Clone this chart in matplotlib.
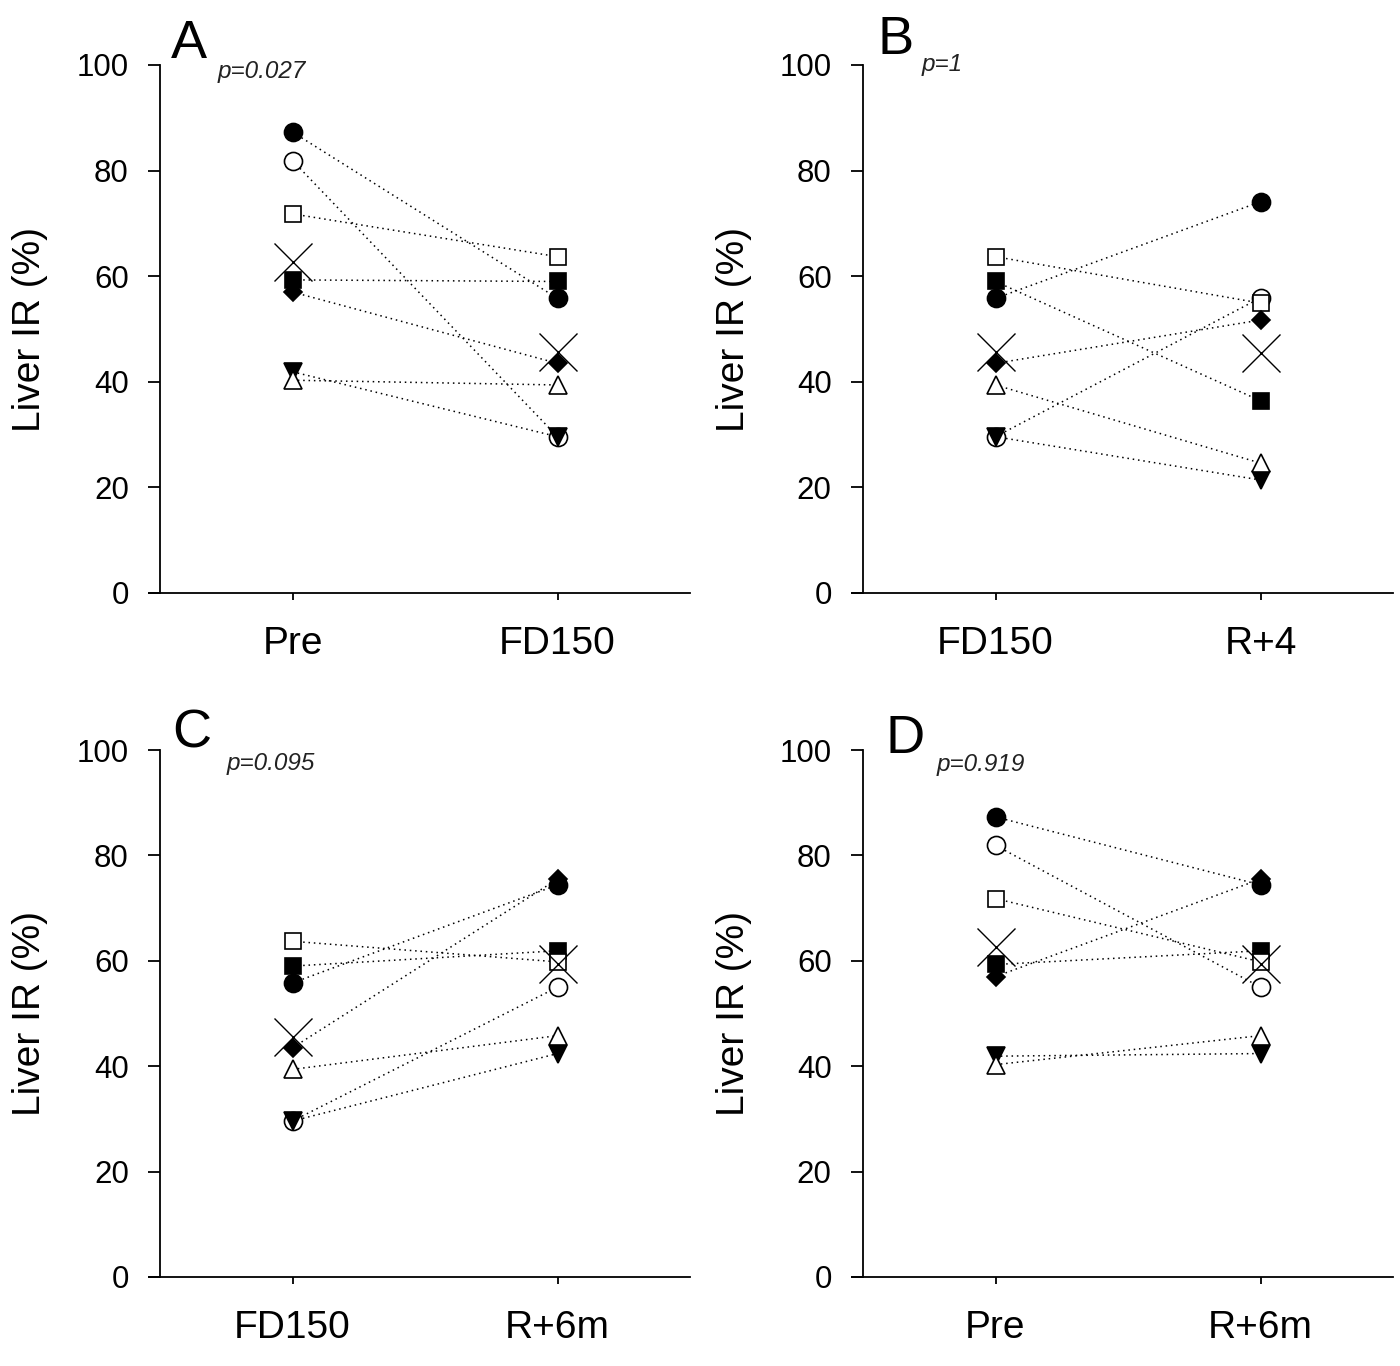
import matplotlib
matplotlib.use("Agg")
import matplotlib.pyplot as plt

plt.rcParams['font.family'] = ['Liberation Sans', 'DejaVu Sans']

# Subjects in SigmaPlot default symbol order
subjects = ["S1", "S2", "S3", "S4", "S5", "S6", "S7"]
# Liver IR (%) per subject at each time point
pre   = [87.3, 81.9, 41.9, 40.3, 59.3, 71.8, 57.0]
fd150 = [55.8, 29.6, 29.6, 39.4, 59.0, 63.7, 43.5]
r4    = [74.1, 55.9, 21.4, 24.6, 36.4, 54.9, 51.7]
r6m   = [74.4, 55.0, 42.4, 45.8, 61.9, 59.8, 75.5]
# group means (large X)
mean_pre, mean_fd150, mean_r4, mean_r6m = 62.7, 45.6, 45.5, 59.4

panels = [
    ("A", "p=0.027", ["Pre", "FD150"], pre, fd150, mean_pre, mean_fd150),
    ("B", "p=1", ["FD150", "R+4"], fd150, r4, mean_fd150, mean_r4),
    ("C", "p=0.095", ["FD150", "R+6m"], fd150, r6m, mean_fd150, mean_r6m),
    ("D", "p=0.919", ["Pre", "R+6m"], pre, r6m, mean_pre, mean_r6m),
]

# marker styles: (marker, facecolor, size)
styles = [("o", "black", 13), ("o", "white", 13), ("v", "black", 13),
          ("^", "white", 13), ("s", "black", 11.5), ("s", "white", 11.5),
          ("D", "black", 9.5)]

W, H = 1400, 1366
fig = plt.figure(figsize=(W / 100, H / 100), dpi=100)

EXT = 11  # px the x-axis line extends left of the y-axis
# axes rectangles in pixels (y-spine x), top, right, bottom
rects = [(160, 65, 690, 593), (863, 65, 1393, 593),
         (160, 750, 690, 1277), (863, 750, 1393, 1277)]
# panel letter and p-value positions (pixel left, baseline)
letter_pos = [(171, 58), (878, 54), (172, 747), (885, 753)]
p_pos = [(218, 78), (922, 71), (227, 770), (937, 771)]
ylabel_right = [48, 752, 48, 752]

for i, (letter, ptxt, cats, v1, v2, m1, m2) in enumerate(panels):
    l, t, r, b = rects[i]
    unit = (r - l) / 2.0
    ax = fig.add_axes([(l - EXT) / W, 1 - b / H, (r - l + EXT) / W, (b - t) / H])
    xs = [0, 1]
    for k in range(len(subjects)):
        ax.plot(xs, [v1[k], v2[k]], linestyle=(0, (1, 2.5)), color="black",
                linewidth=1.1, zorder=1)
    for k in range(len(subjects)):
        mk, fc, ms = styles[k]
        ax.plot(xs, [v1[k], v2[k]], linestyle="none", marker=mk,
                markersize=ms, markerfacecolor=fc, markeredgecolor="black",
                markeredgewidth=1.2, zorder=2 + k)
    ax.plot(xs, [m1, m2], linestyle="none", marker="x", markersize=28,
            markeredgewidth=1.0, color="black", zorder=20)

    ax.set_xlim(-0.5 - EXT / unit, 1.5)
    ax.set_ylim(0, 100)
    ax.spines['left'].set_position(('data', -0.5))
    ax.set_xticks(xs)
    ax.set_xticklabels(cats)
    ax.set_yticks([0, 20, 40, 60, 80, 100])
    ax.spines['top'].set_visible(False)
    ax.spines['right'].set_visible(False)
    for s in ("left", "bottom"):
        ax.spines[s].set_linewidth(1.3)
    ax.tick_params(axis='y', direction='out', length=8.5, width=1.3,
                   labelsize=22.5, pad=14)
    ax.tick_params(axis='x', direction='out', length=5, width=1.3,
                   labelsize=28, pad=19)
    ax.set_ylabel("Liver IR (%)", fontsize=28)
    ax.yaxis.set_label_coords((ylabel_right[i] - (l - EXT)) / (r - l + EXT), 0.5)

    lx, ly = letter_pos[i]
    fig.text(lx / W, 1 - ly / H, letter, fontsize=39, va="baseline", ha="left")
    px, py = p_pos[i]
    fig.text(px / W, 1 - py / H, ptxt, fontsize=17.5, style="italic",
             va="baseline", ha="left", color="#222222")

fig.savefig("out.png", dpi=100, facecolor="white")
